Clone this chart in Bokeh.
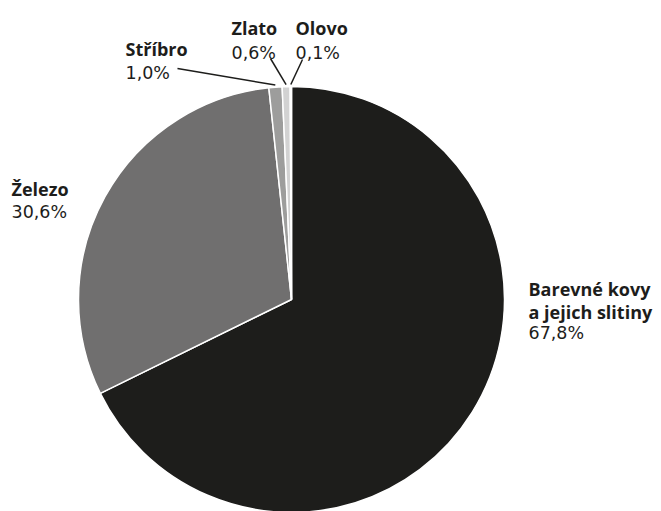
import math
from bokeh.plotting import figure
from bokeh.models import Range1d, ColumnDataSource
from bokeh.core.properties import value
from bokeh.embed import file_html
from bokeh.resources import INLINE

# ---- data ----
names = [["Barevné kovy", "a jejich slitiny"], ["Železo"], ["Stříbro"], ["Zlato"], ["Olovo"]]
values = [67.8, 30.6, 1.0, 0.6, 0.1]
colors = ["#1d1d1b", "#706f6f", "#9d9d9c", "#d2d2d2", "#e4e4e4"]

W, H = 661, 511
PAGE_H = 511
OX, OY = 0, 0   # page offset of the canvas

def Y(sy):
    # page pixel row -> data y
    return PAGE_H - sy

p = figure(width=W, height=H, output_backend="svg", toolbar_location=None,
           x_range=Range1d(OX, OX + W), y_range=Range1d(Y(OY + H), Y(OY)),
           min_border=0)
p.axis.visible = False
p.grid.visible = False
p.outline_line_color = None
p.background_fill_color = None
p.border_fill_color = None

cx, cy, R = 291, Y(299), 213
total = sum(values)
starts, ends, mids = [], [], []
c = 0.0
for v in values:
    c0, c1 = c, c + v
    # clockwise from 12 o'clock
    starts.append(math.radians(90 - 360 * c1 / total))
    ends.append(math.radians(90 - 360 * c0 / total))
    mids.append(math.radians(90 - 360 * (c0 + c1) / 2 / total))
    c = c1

src = ColumnDataSource(dict(x=[cx] * len(values), y=[cy] * len(values),
                            start=starts, end=ends, color=colors))
p.wedge(x="x", y="y", radius=R, start_angle="start", end_angle="end",
        direction="anticlock", fill_color="color", line_color="white",
        line_width=1.5, source=src)

TXT = "#1d1d1b"

# label layout: (left x, baseline of first line) in page pixels
label_pos = [(528, 288), (11, 188), (125, 48), (231, 27), (295, 27)]
line_h = 23
val_gap = [21, 23, 24, 25, 25]

nx, ny, nt = [], [], []
vx, vy, vt = [], [], []
for i, (nm, v) in enumerate(zip(names, values)):
    lx, by = label_pos[i]
    for j, line in enumerate(nm):
        nx.append(lx); ny.append(Y(by + j * line_h)); nt.append(line)
    vx.append(lx); vy.append(Y(by + (len(nm) - 1) * line_h + val_gap[i]))
    vt.append(f"{v:.1f}".replace(".", ",") + "%")

p.text(x=nx, y=ny, text=nt, text_font=value("Open Sans"), text_font_style="bold",
       text_font_size="18px", text_color=TXT, text_align="left",
       text_baseline="alphabetic")
p.text(x=vx, y=vy, text=vt, text_font=value("DejaVu Sans"),
       text_font_size="17.5px", text_color=TXT, text_align="left",
       text_baseline="alphabetic")

# leader lines for small slices: from label to slice edge
leader_from = {2: (177, 68), 3: (270, 58), 4: (302, 59)}
for i, (sx, sy) in leader_from.items():
    ex = cx + (R + 2) * math.cos(mids[i])
    ey = cy + (R + 2) * math.sin(mids[i])
    p.line([sx, ex], [Y(sy), ey], line_color=TXT, line_width=1.5)

open("out.html", "w").write(file_html(p, INLINE))
